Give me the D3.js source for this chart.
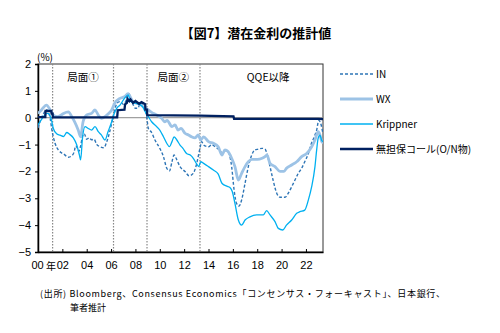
<!DOCTYPE html>
<html>
<head>
<meta charset="utf-8">
<script src="https://cdn.jsdelivr.net/npm/d3@7"></script>
<style>
  body { margin: 0; background: #fff; }
  text { font-family: "Liberation Sans", Arial, "Noto Sans CJK JP", sans-serif; fill: #000; }
  .jp { font-family: "Noto Sans CJK JP", sans-serif; }
</style>
</head>
<body>
<svg class="svg" width="500" height="333"></svg>
<script>
// 推計値 [年, %]
const seriesIN = [[2000.0,-0.38],[2000.2,-0.1],[2000.45,0.15],[2000.7,0.3],[2000.9,0.15],[2001.0,-0.02],[2001.12,-0.4],[2001.4,-0.95],[2001.67,-1.2],[2001.9,-1.3],[2002.1,-1.35],[2002.5,-1.47],[2002.77,-1.42],[2002.95,-1.3],[2003.1,-1.05],[2003.2,-1.1],[2003.35,-1.25],[2003.5,-1.05],[2003.65,-0.7],[2003.8,-0.6],[2004.0,-0.8],[2004.2,-0.75],[2004.4,-0.82],[2004.6,-0.8],[2004.8,-0.98],[2005.1,-1.08],[2005.4,-1.12],[2005.6,-0.95],[2005.9,-0.5],[2006.1,-0.1],[2006.3,0.3],[2006.5,0.55],[2006.75,0.6],[2007.0,0.5],[2007.2,0.6],[2007.45,0.9],[2007.6,0.75],[2007.8,0.5],[2008.0,0.35],[2008.2,0.35],[2008.4,0.55],[2008.6,0.45],[2008.8,0.3],[2008.92,0.05],[2009.06,-0.4],[2009.33,-0.55],[2009.6,-0.83],[2010.0,-1.14],[2010.3,-1.45],[2010.57,-1.88],[2010.8,-1.98],[2011.0,-1.64],[2011.17,-1.39],[2011.4,-1.57],[2011.66,-1.82],[2012.07,-2.0],[2012.4,-2.16],[2012.75,-2.07],[2013.0,-1.76],[2013.3,-1.14],[2013.44,-0.89],[2013.6,-1.02],[2014.0,-1.08],[2014.26,-1.0],[2014.6,-1.1],[2014.9,-1.2],[2015.1,-1.3],[2015.35,-1.22],[2015.6,-1.26],[2015.9,-1.82],[2016.1,-2.69],[2016.3,-3.19],[2016.5,-3.29],[2016.72,-3.06],[2017.0,-2.44],[2017.27,-1.82],[2017.55,-1.39],[2017.8,-1.2],[2018.1,-1.17],[2018.4,-1.14],[2018.64,-1.17],[2018.8,-1.33],[2019.05,-1.82],[2019.3,-2.32],[2019.6,-2.81],[2019.87,-2.96],[2020.28,-2.96],[2020.55,-2.81],[2020.83,-2.57],[2021.1,-2.32],[2021.37,-2.07],[2021.65,-1.88],[2021.9,-1.64],[2022.2,-1.33],[2022.4,-1.02],[2022.68,-0.71],[2022.88,-0.46],[2023.05,-0.1],[2023.2,-0.2],[2023.4,-0.6]];

const seriesWX = [[2000.0,0.15],[2000.3,0.3],[2000.7,0.47],[2001.0,0.29],[2001.26,0.1],[2001.6,0.04],[2001.9,0.1],[2002.1,0.16],[2002.5,0.22],[2002.77,0.04],[2003.0,-0.15],[2003.3,-0.46],[2003.5,-0.71],[2003.7,-0.15],[2004.0,0.1],[2004.4,0.16],[2004.68,0.29],[2004.95,0.1],[2005.2,-0.02],[2005.5,0.04],[2005.8,0.16],[2006.05,0.29],[2006.3,0.54],[2006.73,0.72],[2007.1,0.78],[2007.4,0.9],[2007.6,0.75],[2007.8,0.6],[2008.1,0.54],[2008.4,0.5],[2008.65,0.4],[2009.06,0.29],[2009.33,0.2],[2009.74,0.1],[2010.15,-0.02],[2010.4,-0.15],[2010.6,-0.1],[2011.0,-0.33],[2011.25,-0.27],[2011.5,-0.46],[2011.75,-0.4],[2012.07,-0.58],[2012.35,-0.64],[2012.6,-0.71],[2012.9,-0.75],[2013.16,-0.64],[2013.36,-0.83],[2013.6,-0.71],[2014.0,-0.89],[2014.4,-0.95],[2014.8,-1.08],[2015.1,-1.39],[2015.35,-1.2],[2015.6,-1.26],[2015.9,-1.51],[2016.17,-1.82],[2016.45,-2.32],[2016.72,-2.07],[2017.0,-1.82],[2017.27,-1.64],[2017.55,-1.55],[2018.0,-1.55],[2018.4,-1.51],[2018.64,-1.45],[2018.8,-1.39],[2019.05,-1.7],[2019.46,-1.82],[2019.87,-2.0],[2020.2,-2.0],[2020.4,-1.88],[2020.83,-1.76],[2021.24,-1.64],[2021.65,-1.45],[2022.06,-1.33],[2022.47,-1.08],[2022.74,-0.83],[2023.0,-0.52],[2023.15,-0.64],[2023.3,-0.89],[2023.43,-0.93]];

const seriesKrippner = [[2000.0,-0.27],[2000.25,-0.09],[2000.55,0.1],[2000.8,0.16],[2001.07,-0.02],[2001.26,-0.4],[2001.53,-0.6],[2001.8,-0.65],[2002.1,-0.7],[2002.36,-0.55],[2002.6,-0.62],[2002.9,-0.75],[2003.17,-1.0],[2003.4,-1.39],[2003.5,-1.57],[2003.65,-0.77],[2003.86,-0.33],[2004.13,-0.4],[2004.4,-0.46],[2004.68,-0.33],[2004.95,-0.52],[2005.2,-0.64],[2005.5,-0.83],[2005.75,-0.52],[2006.05,-0.15],[2006.26,0.16],[2006.46,0.35],[2006.73,0.47],[2007.1,0.72],[2007.4,0.85],[2007.6,0.6],[2007.9,0.55],[2008.3,0.5],[2008.6,0.4],[2008.8,0.22],[2009.06,0.04],[2009.33,-0.15],[2009.74,-0.33],[2010.0,-0.46],[2010.3,-0.71],[2010.57,-0.95],[2010.8,-1.08],[2011.0,-0.89],[2011.17,-0.71],[2011.4,-0.83],[2011.66,-1.02],[2011.9,-1.14],[2012.2,-1.33],[2012.5,-1.39],[2012.75,-1.51],[2013.0,-1.7],[2013.2,-1.82],[2013.36,-1.64],[2013.6,-1.7],[2014.0,-1.82],[2014.4,-1.95],[2014.8,-2.1],[2015.1,-2.44],[2015.5,-2.55],[2015.76,-2.6],[2015.95,-2.75],[2016.17,-3.19],[2016.45,-3.81],[2016.72,-4.0],[2017.0,-3.81],[2017.4,-3.69],[2017.95,-3.62],[2018.5,-3.62],[2018.77,-3.46],[2019.05,-3.62],[2019.46,-3.87],[2019.73,-4.12],[2020.1,-4.18],[2020.4,-4.0],[2020.83,-3.81],[2021.24,-3.56],[2021.5,-3.5],[2021.9,-3.44],[2022.2,-3.06],[2022.47,-2.57],[2022.74,-1.82],[2022.88,-1.2],[2023.0,-0.77],[2023.15,-0.65],[2023.3,-0.85],[2023.43,-0.89]];

const seriesCall = [[2000.0,0.02],[2000.6,0.02],[2000.62,0.25],[2001.1,0.25],[2001.12,0.15],[2001.2,0.15],[2001.22,0.01],[2006.5,0.01],[2006.55,0.28],[2007.1,0.3],[2007.15,0.5],[2007.3,0.55],[2007.35,0.7],[2007.5,0.62],[2007.6,0.68],[2007.8,0.55],[2008.0,0.62],[2008.3,0.52],[2008.5,0.58],[2008.8,0.5],[2008.82,0.3],[2008.95,0.3],[2008.97,0.1],[2013.3,0.08],[2016.05,0.05],[2016.1,-0.04],[2023.0,-0.04],[2023.43,-0.05]];

const yTicks = [2, 1, 0, -1, -2, -3, -4, -5];
const xTicks = [2000, 2002, 2004, 2006, 2008, 2010, 2012, 2014, 2016, 2018, 2020, 2022];
const phaseLines = [2001.2, 2006.2, 2008.95, 2013.3];
const phaseLabels = [["局面①", 2003.7], ["局面②", 2011.1], ["QQE以降", 2018.9]];
const legendNames = ["IN", "WX", "Krippner", "無担保コール(O/N物)"];

const svg = d3.select(".svg");
const plotL = 38, plotR = 323, plotT = 64, plotB = 252;

const x = d3.scaleLinear().domain([2000, 2023.4]).range([plotL, plotR]);
const y = d3.scaleLinear().domain([-5, 2]).range([plotB, plotT]);

// タイトル
svg.append("text").attr("class", "jp").attr("x", 256).attr("y", 38)
  .attr("text-anchor", "middle").attr("font-size", 13).attr("font-weight", "bold")
  .text("【図7】潜在金利の推計値");

svg.append("text").attr("class", "jp").attr("x", 37).attr("y", 61).attr("font-size", 10).text("(%)");

svg.append("defs").append("clipPath").attr("id", "clip")
  .append("rect").attr("x", plotL).attr("y", plotT).attr("width", plotR - plotL).attr("height", plotB - plotT);

// 枠
svg.append("rect").attr("x", plotL).attr("y", plotT).attr("width", plotR - plotL).attr("height", plotB - plotT)
  .attr("fill", "none").attr("stroke", "#333").attr("stroke-width", 1);

// 局面の区切り
svg.selectAll(".phase").data(phaseLines).enter().append("line")
  .attr("x1", d => x(d)).attr("x2", d => x(d)).attr("y1", plotT).attr("y2", plotB)
  .attr("stroke", "#888").attr("stroke-width", 1.2).attr("stroke-dasharray", "1.5,1.5");

svg.selectAll(".plabel").data(phaseLabels).enter().append("text").attr("class", "jp")
  .attr("x", d => x(d[1])).attr("y", 81).attr("text-anchor", "middle").attr("font-size", 10.5)
  .text(d => d[0]);

// ゼロ線
svg.append("line").attr("x1", plotL).attr("x2", plotR).attr("y1", y(0)).attr("y2", y(0))
  .attr("stroke", "#888").attr("stroke-width", 1);

// 軸
const yAxis = svg.append("g").attr("transform", `translate(${plotL},0)`)
  .call(d3.axisLeft(y).tickValues(yTicks).tickSize(3).tickFormat(d => d < 0 ? "−" + Math.abs(d) : d));
yAxis.select(".domain").attr("stroke", "#000").attr("stroke-width", 1.5);
yAxis.selectAll("text").attr("font-size", 11).attr("dx", -1);

const xAxis = svg.append("g").attr("transform", `translate(0,${plotB})`)
  .call(d3.axisBottom(x).tickValues(xTicks).tickSizeInner(-3).tickSizeOuter(0)
    .tickFormat(d => String(d % 100).padStart(2, "0")));
xAxis.select(".domain").attr("stroke", "#000").attr("stroke-width", 1.5);
xAxis.selectAll("text").attr("font-size", 11).attr("y", 9);
xAxis.selectAll(".tick").filter(d => d === 2000).select("text").attr("dx", -1);
svg.append("text").attr("class", "jp").attr("x", 51).attr("y", 270).attr("text-anchor", "middle")
  .attr("font-size", 10).text("年");

// 系列
const styles = [
  { data: seriesIN, color: "#2E75B6", width: 1.4, dash: "3,2" },
  { data: seriesWX, color: "#9DC3E6", width: 2.8, dash: null },
  { data: seriesKrippner, color: "#00B0F0", width: 1.3, dash: null },
  { data: seriesCall, color: "#002060", width: 2.3, dash: null }
];

const smooth = d3.line().x(d => x(d[0])).y(d => y(d[1])).curve(d3.curveMonotoneX);
const step = d3.line().x(d => x(d[0])).y(d => y(d[1]));

const g = svg.append("g").attr("clip-path", "url(#clip)");
styles.forEach((s, i) => {
  g.append("path").datum(s.data)
    .attr("d", i === 3 ? step : smooth)
    .attr("fill", "none").attr("stroke", s.color).attr("stroke-width", s.width)
    .attr("stroke-dasharray", s.dash);
});

// 凡例
const legend = svg.selectAll(".legend").data(styles).enter().append("g")
  .attr("transform", (d, i) => `translate(340,${74 + i * 25})`);
legend.append("line").attr("x1", 0).attr("x2", 33).attr("y1", 0).attr("y2", 0)
  .attr("stroke", d => d.color).attr("stroke-width", d => d.width).attr("stroke-dasharray", d => d.dash);
legend.append("text").attr("class", "jp").attr("x", 36).attr("y", 4).attr("font-size", 10)
  .text((d, i) => legendNames[i]);

// 出所
svg.append("text").attr("class", "jp").attr("x", 40).attr("y", 297).attr("font-size", 9)
  .attr("textLength", 405).attr("lengthAdjust", "spacing")
  .text("(出所) Bloomberg、Consensus Economics「コンセンサス・フォーキャスト」、日本銀行、");
svg.append("text").attr("class", "jp").attr("x", 70).attr("y", 311).attr("font-size", 9)
  .text("筆者推計");
</script>
</body>
</html>
